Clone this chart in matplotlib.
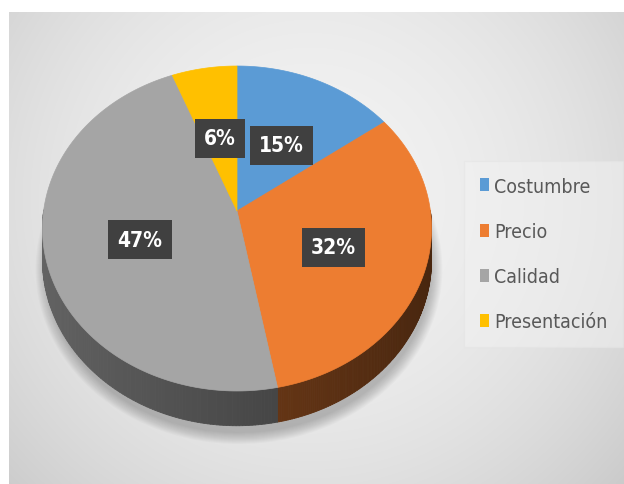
import matplotlib.pyplot as plt
import numpy as np
from matplotlib.patches import Polygon, Patch, Ellipse
from matplotlib.collections import PolyCollection
from matplotlib import font_manager

categorias = ['Costumbre', 'Precio', 'Calidad', 'Presentación']
porcentajes = [15, 32, 47, 6]
colores = ['#5b9bd5', '#ed7d31', '#a5a5a5', '#ffc000']

# perspectiva del pastel 3D (en pixeles)
CX, CY = 237, 212
A, B, P = 193.4, 160.6, 0.1077
ALTO = 31

fuente = ['DejaVu Sans']


def proyectar(theta, r=1.0):
    u = r * np.sin(theta)
    w = -r * np.cos(theta)
    den = 1 - P * w
    return CX + A * u / den, CY + B * w / den, den


fig = plt.figure(figsize=(6.24, 4.85), dpi=100)
ax = fig.add_axes([0, 0, 1, 1])

# fondo degradado
xs = np.arange(9, 624) + 0.5
ys = np.arange(13, 485) + 0.5
xx, yy = np.meshgrid(xs, ys)
g = (242 - 2.18e-4 * ((xx - 310) ** 2 + (yy - 200) ** 2)) / 255
g = np.clip(g, 0, 1)
ax.imshow(np.dstack([g, g, g]), extent=(9, 624, 485, 13), zorder=0)

# sombra difusa bajo el pastel
for k in range(12):
    ax.add_patch(Ellipse((CX + 2, 270), 2 * A + 20 - 2 * k, 330 + 20 - 2 * k,
                         fc='black', ec='none', alpha=0.02, zorder=1))

total = sum(porcentajes)
angulos = np.concatenate([[0], np.cumsum(porcentajes) / total * 2 * np.pi])

# lados del pastel
for i, color in enumerate(colores):
    t = np.linspace(angulos[i], angulos[i + 1], 200)
    x, y, den = proyectar(t)
    base = np.array(plt.matplotlib.colors.to_rgb(color))
    quads, caras = [], []
    for j in range(len(t) - 1):
        w = -np.cos(0.5 * (t[j] + t[j + 1]))
        if w < 0:
            continue
        u = np.sin(0.5 * (t[j] + t[j + 1]))
        f = 0.45 - 0.15 * u
        quads.append([(x[j], y[j]), (x[j + 1], y[j + 1]),
                      (x[j + 1], y[j + 1] + ALTO / den[j + 1]),
                      (x[j], y[j] + ALTO / den[j])])
        caras.append(np.clip(base * f, 0, 1))
    if quads:
        ax.add_collection(PolyCollection(quads, facecolors=caras,
                                         edgecolors=caras, linewidths=0.6,
                                         zorder=2))

# caras superiores
for i, color in enumerate(colores):
    t = np.linspace(angulos[i], angulos[i + 1], 200)
    x, y, _ = proyectar(t)
    pts = np.column_stack([np.r_[CX, x], np.r_[CY, y]])
    ax.add_patch(Polygon(pts, closed=True, fc=color, ec=color, lw=0.5, zorder=3))

# etiquetas de porcentaje
for i, valor in enumerate(porcentajes):
    medio = 0.5 * (angulos[i] + angulos[i + 1])
    x, y, _ = proyectar(medio, 0.52)
    ax.text(x + 1, y + 5, f'{valor}%', ha='center', va='center',
            color='white', fontsize=15, fontweight='bold', family=fuente,
            fontstretch='condensed',
            bbox=dict(boxstyle='square,pad=0.45', fc='#404040', ec='none'),
            zorder=5)

prop = font_manager.FontProperties(family=fuente, size=14, stretch='condensed')
manejadores = [Patch(fc=c, ec='none') for c in colores]
ley = ax.legend(manejadores, categorias, loc='center left',
                bbox_to_anchor=(470, 255), bbox_transform=ax.transData,
                frameon=True, labelcolor='#595959', prop=prop,
                handlelength=0.5, handleheight=0.65, handletextpad=0.25,
                labelspacing=1.35, borderpad=0.5, borderaxespad=0)
ley.get_frame().set_facecolor('#f2f2f2')
ley.get_frame().set_alpha(0.5)
ley.get_frame().set_edgecolor('#e4e4e4')
ley.get_frame().set_boxstyle('square')

ax.set_xlim(0, 624)
ax.set_ylim(485, 0)
ax.set_aspect('auto')
ax.axis('off')
fig.savefig('out.png', dpi=100, facecolor='white')
